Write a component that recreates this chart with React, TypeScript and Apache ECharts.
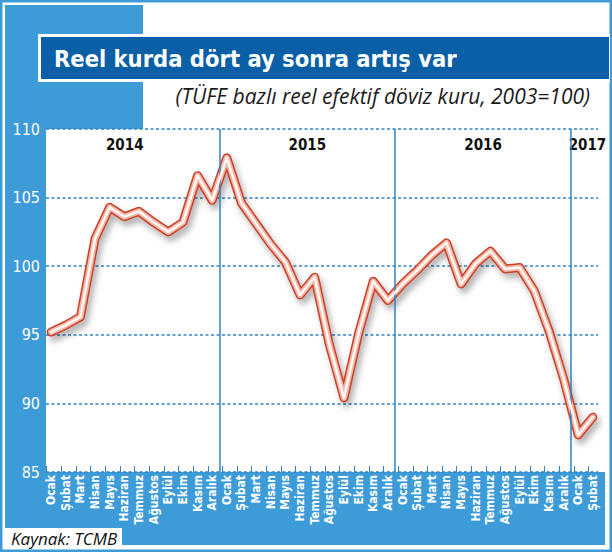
import * as echarts from "echarts";
import { useEffect, useRef } from "react";

const months = ["Ocak", "Şubat", "Mart", "Nisan", "Mayıs", "Haziran", "Temmuz", "Ağustos", "Eylül", "Ekim", "Kasım", "Aralık"];
const categories = [...months, ...months, ...months, "Ocak", "Şubat"];

const values2014 = [95.2, 95.7, 96.3, 102.0, 104.3, 103.6, 104.0, 103.2, 102.5, 103.2, 106.6, 104.8];
const values2015 = [107.9, 104.6, 103.1, 101.6, 100.3, 97.9, 99.2, 94.3, 90.4, 95.1, 98.9, 97.5];
const values2016 = [98.7, 99.7, 100.8, 101.7, 98.7, 100.2, 101.1, 99.8, 99.9, 98.2, 95.3, 91.8];
const values2017 = [87.7, 89.0];
const values = [...values2014, ...values2015, ...values2016, ...values2017];

const years = ["2014", "2015", "2016", "2017"];
const yearBreaks = [11.5, 23.5, 35.5];

const title = "Reel kurda dört ay sonra artış var";
const subtitle = "(TÜFE bazlı reel efektif döviz kuru, 2003=100)";
const source = "Kaynak: TCMB";

const NARROW = '"Liberation Sans Narrow", "DejaVu Sans Condensed", sans-serif';
const LIGHT = "#3d9bd8";
const DARK = "#0b5fa6";
const GRIDBLUE = "#3183c2";

export default function App() {
    const node = useRef<HTMLDivElement>(null);

    useEffect(() => {
        const chart = echarts.init(node.current, null, { renderer: "svg" });
        const points = values.map((v, i) => [i, v]);
        const idx = categories.map((_, i) => i);
        const xMin = -0.35;
        const xMax = categories.length - 1 + 0.35;
        const spans = [xMin, ...yearBreaks, xMax];

        const option: echarts.EChartsOption = {
            animation: false,
            backgroundColor: "#ffffff",
            grid: { left: 46, right: 14, top: 129, bottom: 80 },
            xAxis: {
                type: "value",
                min: xMin,
                max: xMax,
                splitLine: { show: false },
                axisLine: { show: false },
                axisTick: {
                    show: true,
                    inside: true,
                    length: 6,
                    customValues: idx.map((i) => i - 0.3),
                    lineStyle: { color: GRIDBLUE, width: 1 },
                },
                axisLabel: {
                    customValues: idx,
                    formatter: (v: number) => categories[Math.round(v)],
                    rotate: 90,
                    margin: 3,
                    color: "#ffffff",
                    fontFamily: NARROW,
                    fontWeight: "bold",
                    fontSize: 12,
                },
            },
            yAxis: {
                type: "value",
                min: 85,
                max: 110,
                interval: 5,
                axisLine: { show: false },
                axisTick: { show: false },
                axisLabel: {
                    color: "#ffffff",
                    fontFamily: NARROW,
                    fontSize: 16,
                    margin: 6,
                },
                splitLine: {
                    lineStyle: { color: GRIDBLUE, type: [3, 2.5], width: 1.5 },
                },
            },
            graphic: [
                { type: "rect", z: -20, shape: { x: 0, y: 0, width: 612, height: 552 }, style: { fill: LIGHT } },
                { type: "rect", z: -19, shape: { x: 2.5, y: 2.5, width: 607, height: 547 }, style: { fill: "#ffffff" } },
                { type: "rect", z: -18, shape: { x: 5, y: 5, width: 138, height: 124 }, style: { fill: LIGHT } },
                { type: "rect", z: -18, shape: { x: 5, y: 128, width: 41, height: 346 }, style: { fill: LIGHT } },
                { type: "rect", z: -18, shape: { x: 5, y: 472, width: 600, height: 73 }, style: { fill: LIGHT } },
                { type: "rect", z: 50, shape: { x: 38, y: 34, width: 572, height: 48 }, style: { fill: "#ffffff" } },
                { type: "rect", z: 51, shape: { x: 41, y: 37, width: 568, height: 42 }, style: { fill: DARK } },
                {
                    type: "text",
                    z: 52,
                    x: 54,
                    y: 59,
                    style: {
                        text: title,
                        fill: "#ffffff",
                        fontFamily: NARROW,
                        fontWeight: "bold",
                        fontSize: 23.5,
                        verticalAlign: "middle",
                    },
                },
                {
                    type: "text",
                    z: 52,
                    x: 590,
                    y: 96,
                    style: {
                        text: subtitle,
                        fill: "#1a1a1a",
                        fontFamily: '"Open Sans", sans-serif',
                        fontStyle: "italic",
                        fontSize: 21,
                        align: "right",
                        verticalAlign: "middle",
                    },
                },
                { type: "rect", z: 50, shape: { x: 5, y: 528, width: 117, height: 19 }, style: { fill: "#ffffff" } },
                {
                    type: "text",
                    z: 52,
                    x: 11,
                    y: 538,
                    style: {
                        text: source,
                        fill: "#111111",
                        fontFamily: '"Open Sans", sans-serif',
                        fontStyle: "italic",
                        fontSize: 17,
                        verticalAlign: "middle",
                    },
                },
            ],
            series: [
                {
                    type: "line",
                    data: points,
                    symbol: "none",
                    z: 3,
                    lineStyle: {
                        color: "#c8412a",
                        width: 9,
                        cap: "round",
                        join: "round",
                        shadowColor: "rgba(0,0,0,0.3)",
                        shadowBlur: 6,
                        shadowOffsetX: 3,
                        shadowOffsetY: 5,
                    },
                    markLine: {
                        silent: true,
                        symbol: "none",
                        label: { show: false },
                        lineStyle: { color: GRIDBLUE, type: "solid", width: 1.5 },
                        data: yearBreaks.map((b) => ({ xAxis: b })),
                    },
                    markArea: {
                        silent: true,
                        itemStyle: { color: "rgba(0,0,0,0)" },
                        label: {
                            position: "insideTop",
                            distance: 8,
                            color: "#111111",
                            fontFamily: NARROW,
                            fontWeight: "bold",
                            fontSize: 15,
                        },
                        data: years.map((y, i) => [
                            {
                                name: y,
                                xAxis: spans[i],
                                label: { offset: [i === 0 ? -8 : i === 3 ? 3 : 0, 0] },
                            },
                            { xAxis: spans[i + 1] },
                        ]) as any,
                    },
                },
                {
                    type: "line",
                    data: points,
                    symbol: "none",
                    z: 4,
                    lineStyle: { color: "#f3b7a8", width: 6, cap: "round", join: "round" },
                },
                {
                    type: "line",
                    data: points,
                    symbol: "none",
                    z: 5,
                    lineStyle: { color: "#fff8f5", width: 2.5, cap: "round", join: "round" },
                },
            ],
        };

        chart.setOption(option);
        return () => {
            chart.dispose();
        };
    }, []);

    return <div ref={node} style={{ position: "absolute", left: 0, top: 0, width: 612, height: 552 }}></div>;
}
